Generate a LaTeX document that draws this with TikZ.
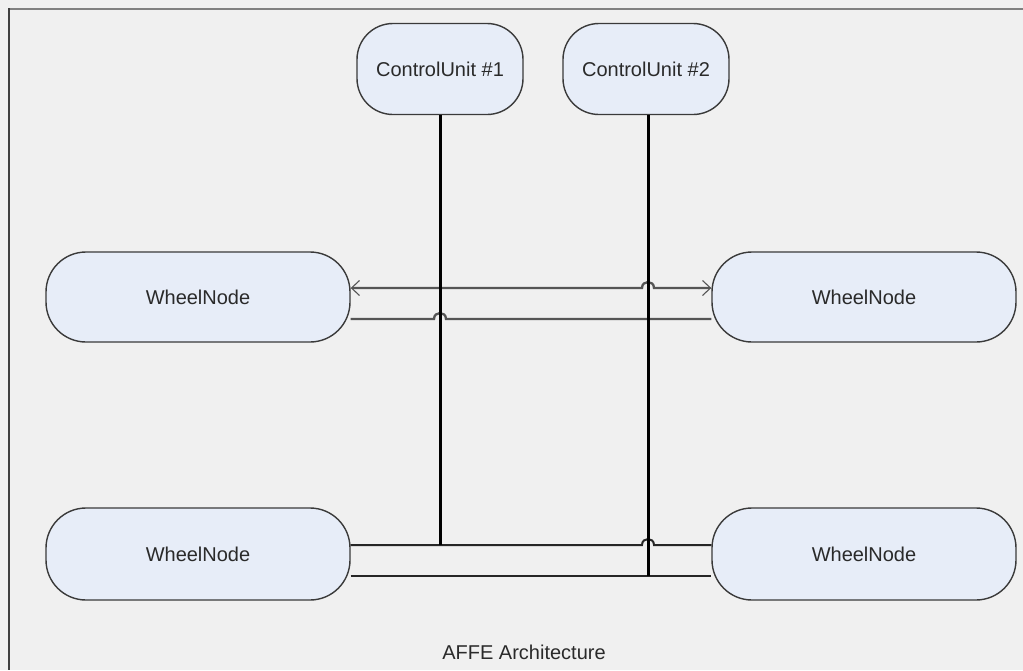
\documentclass[tikz,border=0pt]{standalone}
\usepackage{fontspec}
\setmainfont{Liberation Sans}
\usetikzlibrary{arrows.meta,calc}
\definecolor{bgc}{HTML}{F0F0F0}
\definecolor{nodefill}{HTML}{E7EDF8}
\definecolor{nodeline}{HTML}{3A3A3A}
\definecolor{txt}{HTML}{2A2A2A}
\definecolor{busgray}{HTML}{555555}
\tikzset{
  unitbox/.style={draw=nodeline, line width=1.4pt, fill=nodefill, rounded corners=36pt,
    minimum width=166pt, minimum height=91pt, inner sep=0pt, text=txt,
    font=\fontsize{20}{24}\selectfont},
  wheelbox/.style={unitbox, rounded corners=40pt, minimum width=304pt, minimum height=90pt},
  graybus/.style={draw=busgray, line width=2.3pt},
  blackbus/.style={draw=black!85, line width=2pt},
  vline/.style={draw=black, line width=3pt},
  openbarb/.tip={Straight Barb[length=8pt,width=15pt,line width=1.1pt]}
}
\begin{document}
\begin{tikzpicture}[x=1pt,y=-1pt]
\useasboundingbox (0,0) rectangle (1023,670);
\fill[bgc] (0,0) rectangle (1023,670);
\draw[draw=black!50, line width=2pt] (9,9) -- (1023,9);
\draw[draw=black!75, line width=2.5pt] (9,8) -- (9,670);

\node[unitbox] (cu1) at (440,69) {ControlUnit \#1};
\node[unitbox] (cu2) at (646,69) {ControlUnit \#2};
\node[wheelbox] (wl1) at (198,297) {WheelNode};
\node[wheelbox] (wr1) at (864,297) {WheelNode};
\node[wheelbox, minimum height=92pt] (wl2) at (198,554) {WheelNode};
\node[wheelbox, minimum height=92pt] (wr2) at (864,554) {WheelNode};

% junction coordinates
\coordinate (j1) at (440,545);
\coordinate (j2) at (648,576);

% upper buses
\draw[graybus, {openbarb}-{openbarb}] ($(wl1.east)+(0,-9)$) -- (642,288)
  .. controls (642,280) and (654,280) .. (654,288) -- ($(wr1.west)+(0,-9)$);
\draw[graybus] ($(wl1.east)+(0,22)$) -- (434,319)
  .. controls (434,311) and (446,311) .. (446,319) -- ($(wr1.west)+(0,22)$);

% lower buses
\draw[blackbus] ($(wl2.east)+(0,-9)$) -- (642,545)
  .. controls (642,537) and (654,537) .. (654,545) -- ($(wr2.west)+(0,-9)$);
\draw[blackbus] ($(wl2.east)+(0,22)$) -- ($(wr2.west)+(0,22)$);

% verticals
\draw[vline] (cu1.south) -- (j1);
\draw[vline] (cu2.south -| j2) -- (j2);

\node[text=txt, font=\fontsize{20}{24}\selectfont] (cap) at (524,652) {AFFE Architecture};
\end{tikzpicture}
\end{document}
